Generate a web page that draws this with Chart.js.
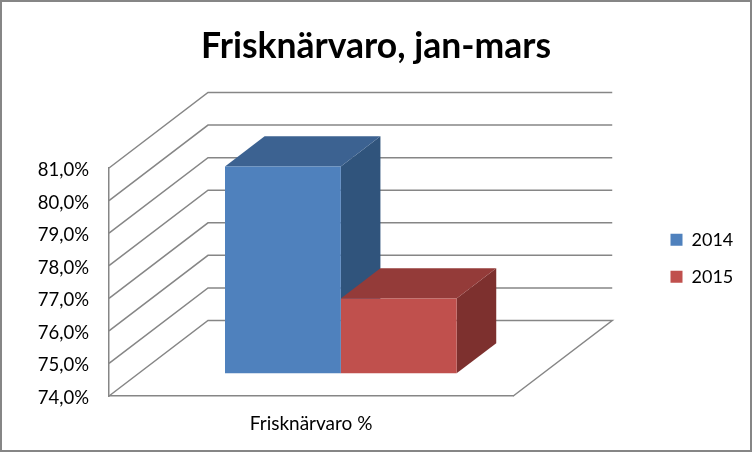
<!DOCTYPE html>
<html>
<head>
<meta charset="utf-8">
<style>
  html, body { margin:0; padding:0; background:#fff; }
  canvas { display:block; }
</style>
<script src="https://cdn.jsdelivr.net/npm/chart.js@4/dist/chart.umd.min.js"></script>
</head>
<body>
<canvas id="chart" width="752" height="452"></canvas>
<script>
const categories = ['Frisknärvaro %'];
const seriesNames = ['2014', '2015'];
const values2014 = [80.35];
const values2015 = [76.3];
const yTickLabels = ['74,0%', '75,0%', '76,0%', '77,0%', '78,0%', '79,0%', '80,0%', '81,0%'];

const GREY = '#868686';
const WALL_DX = 99, WALL_DY = -75.5;     // how far the back wall sits from the front plane
const BAR_FRONT = 0.3, BAR_BACK = 0.7;   // bar depth as a share of the wall depth
const topColors = ['#3C6291', '#943B39'];
const sideColors = ['#30547C', '#7D302E'];

function poly(ctx, pts, fill) {
  ctx.fillStyle = fill;
  ctx.beginPath();
  pts.forEach((p, i) => i ? ctx.lineTo(p[0], p[1]) : ctx.moveTo(p[0], p[1]));
  ctx.closePath();
  ctx.fill();
}

const frame3d = {
  id: 'frame3d',
  beforeDraw(chart) {
    const { ctx, width, height, legend, titleBlock } = chart;
    ctx.save();
    ctx.fillStyle = '#fff';
    ctx.fillRect(0, 0, width, height);
    ctx.strokeStyle = GREY;
    ctx.lineWidth = 3;
    ctx.strokeRect(0.5, 0.5, width - 1, height - 1);
    ctx.restore();
    // title is centred on the whole picture, legend sits past the back wall
    titleBlock.left = 0;
    titleBlock.right = width;
    legend.left = 651.5;
    legend.right = 751;
    legend.top = 211.75;
    legend.bottom = 330;
  },
  beforeDatasetsDraw(chart) {
    const { ctx, chartArea: a, scales } = chart;
    ctx.save();
    ctx.strokeStyle = GREY;
    ctx.lineWidth = 1.5;
    scales.y.ticks.forEach((t, i) => {
      const y = scales.y.getPixelForTick(i);
      ctx.beginPath();
      ctx.moveTo(a.left, y);
      ctx.lineTo(a.left + WALL_DX, y + WALL_DY);
      ctx.lineTo(a.right + WALL_DX, y + WALL_DY);
      if (i === 0) ctx.lineTo(a.right, y);
      ctx.stroke();
    });
    // side and top faces, 2014 first so 2015 lies over it
    chart.data.datasets.forEach((ds, di) => {
      const bar = chart.getDatasetMeta(di).data[0];
      const { x, y, width } = bar.getProps(['x', 'y', 'width'], true);
      const base = a.bottom;   // the axis starts at 74 so bars stand on the floor
      const fx = BAR_FRONT * WALL_DX, fy = BAR_FRONT * WALL_DY;
      const bx = BAR_BACK * WALL_DX, by = BAR_BACK * WALL_DY;
      const l = x - width / 2, r = x + width / 2;
      poly(ctx, [[r + fx, y + fy], [r + bx, y + by], [r + bx, base + by], [r + fx, base + fy]], sideColors[di]);
      poly(ctx, [[l + fx, y + fy], [l + bx, y + by], [r + bx, y + by], [r + fx, y + fy]], topColors[di]);
    });
    ctx.restore();
  },
  beforeDatasetDraw(chart) {
    chart.ctx.save();
    chart.ctx.translate(BAR_FRONT * WALL_DX, BAR_FRONT * WALL_DY);
  },
  afterDatasetDraw(chart) {
    chart.ctx.restore();
  }
};

new Chart(document.getElementById('chart'), {
  type: 'bar',
  plugins: [frame3d],
  data: {
    labels: categories,
    datasets: [
      { label: seriesNames[0], data: values2014, backgroundColor: '#4F81BD' },
      { label: seriesNames[1], data: values2015, backgroundColor: '#C0504D' }
    ]
  },
  options: {
    responsive: false,
    animation: false,
    devicePixelRatio: 1,
    datasets: { bar: { barPercentage: 1, categoryPercentage: 0.573 } },
    layout: { padding: { left: 0, right: 147, top: 0, bottom: 0 } },
    scales: {
      x: {
        grid: { display: false, drawTicks: false },
        border: { display: true, color: GREY, width: 1.5 },
        ticks: { color: '#000', padding: 16, font: { family: 'Lato', size: 19 } },
        afterFit(s) { s.height = 56; }
      },
      y: {
        min: 74,
        max: 81,
        grid: { display: false, drawTicks: false },
        border: { display: true, color: GREY, width: 1.5 },
        ticks: {
          stepSize: 1,
          color: '#000',
          padding: 20,
          labelOffset: 2,
          font: { family: 'Lato', size: 18.5 },
          callback: (v, i) => yTickLabels[i]
        },
        afterFit(s) { s.width = 109; }
      }
    },
    plugins: {
      tooltip: { enabled: false },
      title: {
        display: true,
        text: 'Frisknärvaro, jan-mars',
        color: '#000',
        font: { family: 'Lato', size: 35.5, weight: 'bold' },
        padding: { top: 25, bottom: 100.4 }
      },
      legend: {
        position: 'right',
        align: 'start',
        labels: {
          boxWidth: 12,
          boxHeight: 12,
          padding: 19,
          color: '#000',
          font: { family: 'Lato', size: 18 }
        }
      }
    }
  }
});
</script>
</body>
</html>
